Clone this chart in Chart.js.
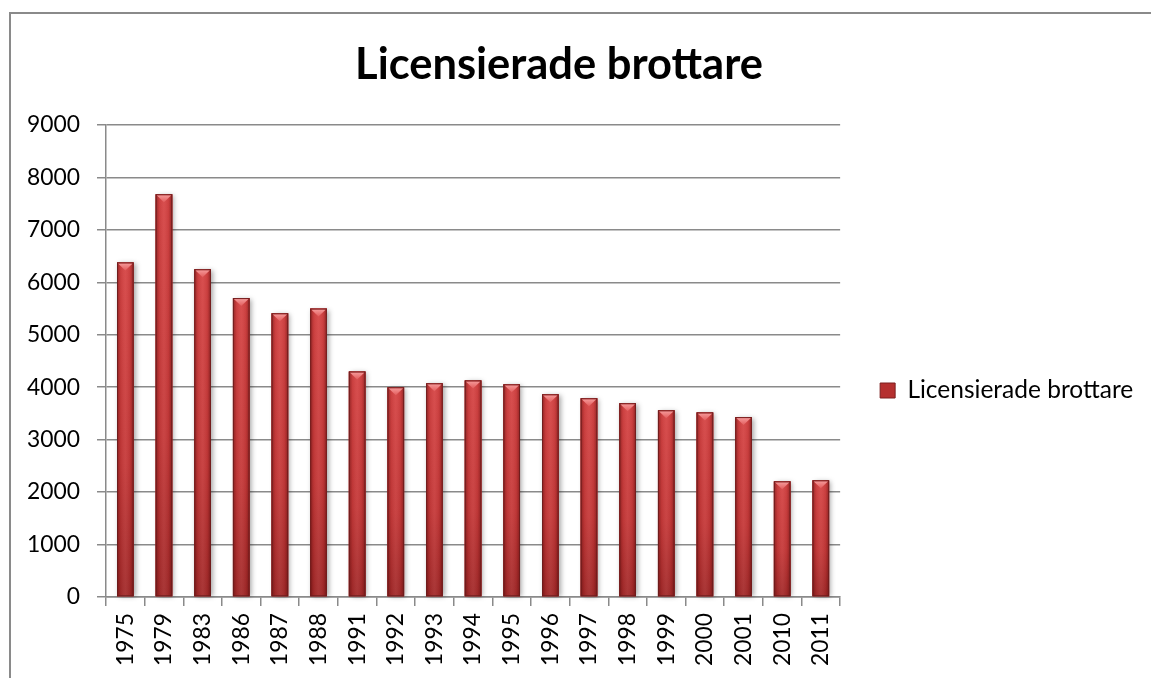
<!DOCTYPE html>
<html>
<head>
<meta charset="utf-8">
<script src="https://cdn.jsdelivr.net/npm/chart.js@4/dist/chart.umd.min.js"></script>
<style>
html,body{margin:0;padding:0;background:#fff;}
#wrap{position:relative;width:1151px;height:678px;overflow:hidden;}
#frame{position:absolute;left:9px;top:12px;right:-5px;bottom:-5px;border-top:2px solid #8a8a8a;border-left:2px solid #8a8a8a;pointer-events:none;}
canvas{display:block;}
</style>
</head>
<body>
<div id="wrap"><canvas id="c" width="1151" height="678"></canvas><div id="frame"></div></div>
<script>
const categories = ['1975','1979','1983','1986','1987','1988','1991','1992','1993','1994','1995','1996','1997','1998','1999','2000','2001','2010','2011'];
const values = [6380, 7680, 6250, 5700, 5410, 5500, 4300, 4000, 4075, 4130, 4055, 3865, 3790, 3695, 3560, 3520, 3430, 2205, 2225];
const yMin = 0;
const yMax = 9000;
const yStep = 1000;
const seriesName = 'Licensierade brottare';
const chartTitle = 'Licensierade brottare';

const FAMILY = 'Lato, "Open Sans", sans-serif';
function fitSize(text, weight, target) {
  const c = document.createElement('canvas').getContext('2d');
  c.font = weight + ' 100px ' + FAMILY;
  return 100 * target / c.measureText(text).width;
}
const titleSize = fitSize(chartTitle, 'bold', 408);
const legendSize = fitSize(seriesName, 'normal', 226);
const tickSize = fitSize('9000', 'normal', 53);

// layout targets
const AREA = {left: 106, top: 125, right: 840, bottom: 597};
const PAD_TOP = 13, PAD_LEFT = 10;
const titleLH = titleSize * 1.2;
const titlePadTop = 65 - PAD_TOP - titleLH / 2;
const titlePadBottom = AREA.top - PAD_TOP - titlePadTop - titleLH;
const legendPad = 40;
const legendWidth = legendPad + 15 + legendSize / 2 + 226 + 10;
const PAD_RIGHT = 1151 - AREA.right - legendWidth;
const legendShift = 2 * (390.5 - (AREA.top + AREA.bottom) / 2);
const legendTitleLH = 12 * 1.2;

const GRID = '#8a8a8a';

const shadowPlugin = {
  id: 'barShadow',
  beforeDatasetsDraw(chart) {
    const ctx = chart.ctx;
    chart.getDatasetMeta(0).data.forEach(bar => {
      const {x, y, base, width} = bar.getProps(['x', 'y', 'base', 'width'], true);
      ctx.save();
      ctx.shadowColor = 'rgba(0,0,0,0.35)';
      ctx.shadowBlur = 5;
      ctx.shadowOffsetX = 2;
      ctx.shadowOffsetY = 1;
      ctx.fillStyle = '#a02a2a';
      ctx.fillRect(x - width / 2, y, width, base - y);
      ctx.restore();
    });
  },
  afterDatasetsDraw(chart) {
    const ctx = chart.ctx;
    chart.getDatasetMeta(0).data.forEach(bar => {
      const {x, y, base, width} = bar.getProps(['x', 'y', 'base', 'width'], true);
      const l = x - width / 2, r = x + width / 2, h = base - y;
      ctx.save();
      let g = ctx.createLinearGradient(0, y, 0, base);
      g.addColorStop(0, '#d64545');
      g.addColorStop(0.6, '#c63a3a');
      g.addColorStop(1, '#a32b2b');
      ctx.fillStyle = g;
      ctx.fillRect(l, y, width, h);
      g = ctx.createLinearGradient(l, 0, r, 0);
      g.addColorStop(0, 'rgba(70,0,0,0.45)');
      g.addColorStop(0.22, 'rgba(70,0,0,0.08)');
      g.addColorStop(0.5, 'rgba(255,255,255,0.05)');
      g.addColorStop(0.78, 'rgba(70,0,0,0.08)');
      g.addColorStop(1, 'rgba(70,0,0,0.45)');
      ctx.fillStyle = g;
      ctx.fillRect(l, y, width, h);
      const capH = Math.min(8, h);
      g = ctx.createLinearGradient(0, y, 0, y + capH);
      g.addColorStop(0, '#f7a0a0');
      g.addColorStop(1, '#e25c5c');
      ctx.fillStyle = g;
      ctx.beginPath();
      ctx.moveTo(l + 1, y + 1);
      ctx.lineTo(r - 1, y + 1);
      ctx.lineTo(x, y + capH);
      ctx.closePath();
      ctx.fill();
      ctx.strokeStyle = 'rgba(105,28,28,0.85)';
      ctx.lineWidth = 1;
      ctx.strokeRect(l + 0.5, y + 0.5, width - 1, h - 1);
      ctx.restore();
    });
  }
};

const titleShift = {
  id: 'titleShift',
  afterLayout(chart) {
    if (chart.titleBlock) {
      chart.titleBlock.left = PAD_LEFT;
      chart.titleBlock.right = 1108;
    }
  }
};

new Chart(document.getElementById('c'), {
  type: 'bar',
  data: {
    labels: categories,
    datasets: [{
      label: seriesName,
      data: values,
      backgroundColor: '#c23737',
      borderColor: '#7a1f1f',
      borderWidth: 0,
      categoryPercentage: 1,
      barPercentage: 0.43
    }]
  },
  options: {
    responsive: false,
    animation: false,
    devicePixelRatio: 1,
    layout: {padding: {top: PAD_TOP, left: PAD_LEFT, right: PAD_RIGHT, bottom: 0}},
    plugins: {
      title: {
        display: true,
        text: chartTitle,
        color: '#000',
        font: {family: FAMILY, size: titleSize, weight: 'bold', lineHeight: 1.2},
        padding: {top: titlePadTop, bottom: titlePadBottom}
      },
      legend: {
        position: 'right',
        fullSize: false,
        maxWidth: 500,
        title: {display: true, text: '', font: {size: 12, lineHeight: 1.2}, padding: {top: 0, bottom: Math.max(0, legendShift - legendTitleLH)}},
        labels: {
          boxWidth: 15,
          boxHeight: 15,
          padding: legendPad,
          color: '#000',
          font: {family: FAMILY, size: legendSize},
          generateLabels(chart) {
            return [{
              text: seriesName,
              fillStyle: '#b5302f',
              strokeStyle: '#7c1f1f',
              fontColor: '#000',
              lineWidth: 1,
              hidden: false,
              datasetIndex: 0
            }];
          }
        }
      },
      tooltip: {enabled: false}
    },
    scales: {
      x: {
        afterFit(scale) { scale.height = 678 - AREA.bottom; },
        grid: {drawOnChartArea: false, drawTicks: true, tickLength: 9, color: GRID, lineWidth: 1.5, offset: true},
        border: {display: true, color: GRID, width: 1.5},
        ticks: {
          autoSkip: false, minRotation: 90, maxRotation: 90, padding: 7,
          color: '#000', font: {family: FAMILY, size: tickSize}
        }
      },
      y: {
        min: yMin, max: yMax,
        afterFit(scale) { scale.width = AREA.left - PAD_LEFT; },
        grid: {drawTicks: true, tickLength: 9, color: GRID, lineWidth: 1.5},
        border: {display: true, color: GRID, width: 1.5},
        ticks: {
          stepSize: yStep, padding: 17,
          color: '#000', font: {family: FAMILY, size: tickSize},
          callback: (v) => String(v)
        }
      }
    }
  },
  plugins: [shadowPlugin, titleShift]
});
</script>
</body>
</html>
